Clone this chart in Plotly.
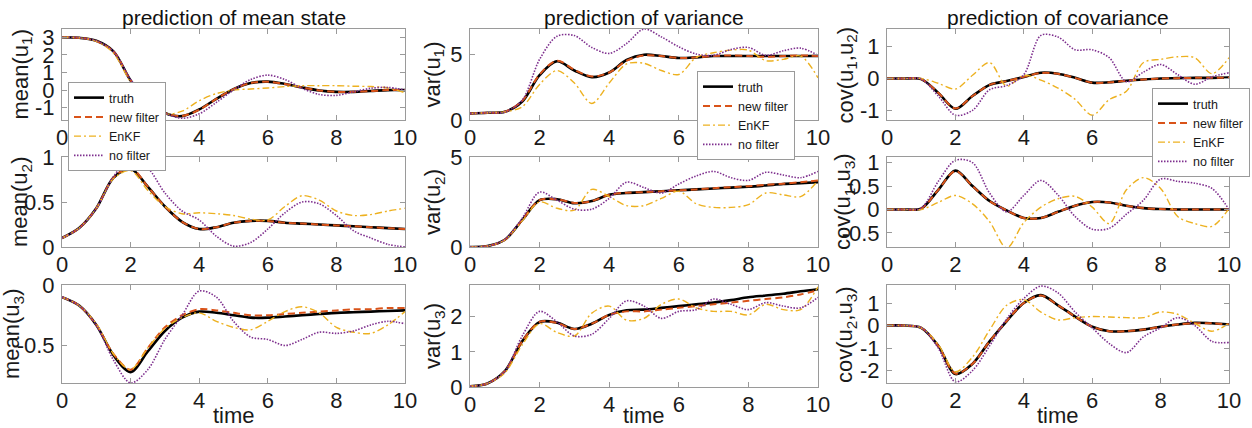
import plotly.graph_objects as go

W, H = 1252, 428

TIME = [0.0, 0.5, 1.0, 1.5, 2.0, 2.5, 3.0, 3.5, 4.0, 4.5, 5.0,
        5.5, 6.0, 6.5, 7.0, 7.5, 8.0, 8.5, 9.0, 9.5, 10.0]
SERIES = ["truth", "new filter", "EnKF", "no filter"]
X_TICKS = [0, 2, 4, 6, 8, 10]

# ---- mean(u1)
MEAN_U1_TRUTH = [3.0, 2.97, 2.8, 2.2, 0.55, -0.65, -1.3, -1.48, -1.1, -0.5, 0.05, 0.4, 0.48, 0.35, 0.15, -0.02, -0.1, -0.1, -0.05, 0.0, 0.0]
MEAN_U1_NEW = [3.0, 2.97, 2.78, 2.2, 0.55, -0.65, -1.3, -1.47, -1.12, -0.5, 0.05, 0.4, 0.47, 0.35, 0.15, -0.02, -0.1, -0.1, -0.06, 0.0, 0.0]
MEAN_U1_ENKF = [3.0, 2.97, 2.78, 2.1, 0.45, -0.8, -1.35, -1.2, -0.6, -0.2, 0.0, 0.06, 0.12, 0.2, 0.25, 0.25, 0.25, 0.22, 0.2, 0.12, -0.15]
MEAN_U1_NOF = [3.0, 2.97, 2.8, 2.2, 0.6, -0.55, -1.3, -1.6, -1.35, -0.7, 0.0, 0.6, 0.85, 0.6, 0.1, -0.25, -0.3, -0.1, 0.1, 0.15, 0.0]

# ---- var(u1)
VAR_U1_TRUTH = [0.5, 0.55, 0.62, 1.4, 3.4, 4.45, 3.75, 3.25, 3.6, 4.55, 4.95, 4.85, 4.7, 4.75, 4.85, 4.85, 4.85, 4.85, 4.85, 4.85, 4.85]
VAR_U1_NEW = [0.5, 0.55, 0.62, 1.45, 3.45, 4.5, 3.8, 3.3, 3.6, 4.5, 4.9, 4.85, 4.7, 4.75, 4.85, 4.9, 4.85, 4.8, 4.85, 4.9, 4.85]
VAR_U1_ENKF = [0.5, 0.55, 0.62, 1.0, 2.7, 3.75, 2.8, 1.25, 2.8, 4.25, 4.3, 3.75, 3.45, 4.75, 5.1, 5.3, 5.3, 4.5, 4.6, 4.85, 3.2]
VAR_U1_NOF = [0.5, 0.55, 0.6, 1.5, 4.6, 6.35, 6.4, 5.5, 5.05, 5.8, 6.9, 6.3, 5.55, 5.0, 4.9, 5.35, 5.5, 4.9, 5.25, 5.45, 4.9]

# ---- cov(u1,u2)
COV_U12_TRUTH = [0.0, 0.0, -0.02, -0.45, -0.95, -0.55, -0.2, -0.08, 0.05, 0.18, 0.15, 0.02, -0.13, -0.12, -0.07, -0.03, 0.0, 0.01, 0.02, 0.02, 0.03]
COV_U12_NEW = [0.0, 0.0, -0.02, -0.45, -0.94, -0.55, -0.2, -0.08, 0.05, 0.17, 0.15, 0.02, -0.13, -0.12, -0.07, -0.03, 0.0, 0.01, 0.02, 0.02, 0.02]
COV_U12_ENKF = [0.0, 0.0, 0.0, -0.15, -0.33, 0.1, 0.5, -0.24, 0.1, -0.05, -0.3, -0.65, -1.15, -0.66, -0.4, 0.5, 0.6, 0.68, 0.65, 0.15, 0.65]
COV_U12_NOF = [0.0, 0.0, -0.02, -0.55, -1.15, -1.0, -0.35, -0.22, 0.12, 1.35, 1.3, 0.9, 0.9, 0.65, -0.1, 0.2, 0.44, 0.12, -0.18, 0.05, 0.18]

# ---- mean(u2)
MEAN_U2_TRUTH = [0.1, 0.21, 0.43, 0.77, 0.87, 0.67, 0.45, 0.28, 0.2, 0.22, 0.27, 0.29, 0.29, 0.27, 0.26, 0.25, 0.24, 0.23, 0.22, 0.21, 0.2]
MEAN_U2_NEW = [0.1, 0.21, 0.43, 0.77, 0.88, 0.67, 0.45, 0.28, 0.2, 0.22, 0.27, 0.29, 0.29, 0.27, 0.26, 0.25, 0.24, 0.23, 0.22, 0.21, 0.2]
MEAN_U2_ENKF = [0.1, 0.21, 0.43, 0.76, 0.85, 0.63, 0.45, 0.37, 0.38, 0.37, 0.35, 0.31, 0.3, 0.45, 0.57, 0.52, 0.4, 0.35, 0.36, 0.4, 0.43]
MEAN_U2_NOF = [0.1, 0.21, 0.43, 0.78, 0.99, 0.88, 0.6, 0.4, 0.3, 0.12, 0.01, 0.05, 0.2, 0.38, 0.5, 0.48, 0.35, 0.18, 0.1, 0.03, 0.0]

# ---- var(u2)
VAR_U2_TRUTH = [0.0, 0.05, 0.4, 1.5, 2.6, 2.65, 2.43, 2.55, 2.9, 3.0, 3.05, 3.1, 3.15, 3.2, 3.25, 3.3, 3.35, 3.42, 3.5, 3.55, 3.6]
VAR_U2_NEW = [0.0, 0.05, 0.4, 1.5, 2.6, 2.65, 2.45, 2.55, 2.9, 3.02, 3.05, 3.1, 3.15, 3.2, 3.27, 3.32, 3.38, 3.45, 3.52, 3.6, 3.7]
VAR_U2_ENKF = [0.0, 0.05, 0.4, 1.45, 2.5, 2.15, 2.05, 3.2, 2.8, 2.3, 2.3, 2.7, 3.1, 2.4, 2.2, 2.2, 2.35, 3.0, 2.9, 2.8, 3.7]
VAR_U2_NOF = [0.0, 0.05, 0.42, 1.6, 3.05, 2.6, 2.1, 2.1, 2.7, 3.6, 3.3, 3.0, 3.5, 3.95, 4.2, 3.85, 3.7, 4.15, 4.0, 3.85, 4.2]

# ---- cov(u1,u3)
COV_U13_TRUTH = [0.0, 0.0, 0.02, 0.42, 0.83, 0.5, 0.18, -0.02, -0.18, -0.18, -0.05, 0.08, 0.16, 0.15, 0.08, 0.03, 0.01, 0.0, 0.0, 0.0, 0.0]
COV_U13_NEW = [0.0, 0.0, 0.02, 0.42, 0.82, 0.5, 0.18, -0.02, -0.18, -0.18, -0.05, 0.08, 0.16, 0.15, 0.08, 0.03, 0.01, 0.0, 0.0, 0.0, 0.0]
COV_U13_ENKF = [0.0, 0.0, 0.0, 0.15, 0.3, 0.12, -0.26, -0.82, -0.28, 0.05, 0.23, 0.28, 0.05, -0.3, 0.42, 0.68, 0.45, -0.15, -0.3, -0.36, 0.02]
COV_U13_NOF = [0.0, 0.0, 0.03, 0.6, 1.05, 1.0, 0.35, -0.05, 0.3, 0.62, 0.31, -0.15, -0.42, -0.4, -0.1, 0.2, 0.65, 0.6, 0.56, 0.45, 0.0]

# ---- mean(u3)
MEAN_U3_TRUTH = [-0.1, -0.17, -0.33, -0.58, -0.72, -0.55, -0.38, -0.27, -0.22, -0.23, -0.25, -0.27, -0.27, -0.26, -0.25, -0.24, -0.23, -0.225, -0.22, -0.215, -0.21]
MEAN_U3_NEW = [-0.1, -0.17, -0.33, -0.57, -0.7, -0.52, -0.35, -0.25, -0.2, -0.21, -0.23, -0.25, -0.25, -0.24, -0.23, -0.22, -0.21, -0.2, -0.2, -0.19, -0.19]
MEAN_U3_ENKF = [-0.1, -0.17, -0.32, -0.57, -0.7, -0.52, -0.36, -0.27, -0.23, -0.3, -0.35, -0.37, -0.3, -0.22, -0.18, -0.23, -0.35, -0.39, -0.4, -0.33, -0.22]
MEAN_U3_NOF = [-0.1, -0.17, -0.33, -0.62, -0.81, -0.7, -0.45, -0.25, -0.05, -0.1, -0.3, -0.43, -0.45, -0.5, -0.45, -0.39, -0.4, -0.38, -0.33, -0.3, -0.32]

# ---- var(u3)
VAR_U3_TRUTH = [0.02, 0.1, 0.45, 1.3, 1.85, 1.83, 1.65, 1.8, 2.05, 2.18, 2.2, 2.25, 2.3, 2.35, 2.4, 2.47, 2.55, 2.6, 2.65, 2.72, 2.78]
VAR_U3_NEW = [0.02, 0.1, 0.45, 1.3, 1.85, 1.82, 1.65, 1.8, 2.05, 2.15, 2.15, 2.2, 2.25, 2.3, 2.35, 2.4, 2.45, 2.5, 2.55, 2.63, 2.75]
VAR_U3_ENKF = [0.02, 0.1, 0.4, 1.2, 1.8, 1.55, 1.45, 2.1, 2.3, 1.9, 1.95, 2.35, 2.5, 2.25, 2.15, 2.15, 2.05, 2.35, 2.2, 2.2, 2.85]
VAR_U3_NOF = [0.02, 0.1, 0.45, 1.45, 2.15, 1.85, 1.45, 1.5, 1.95, 2.45, 2.3, 1.95, 2.15, 2.2, 2.5, 2.35, 2.2, 2.4, 2.3, 2.25, 2.55]

# ---- cov(u2,u3)
COV_U23_TRUTH = [0.0, 0.0, -0.1, -0.9, -2.15, -1.7, -0.7, 0.2, 1.0, 1.35, 0.9, 0.4, -0.05, -0.25, -0.25, -0.18, -0.05, 0.05, 0.12, 0.1, 0.05]
COV_U23_NEW = [0.0, 0.0, -0.1, -0.9, -2.13, -1.7, -0.7, 0.2, 1.0, 1.33, 0.9, 0.4, -0.05, -0.25, -0.25, -0.18, -0.05, 0.05, 0.1, 0.1, 0.05]
COV_U23_ENKF = [0.0, 0.0, -0.1, -0.85, -2.05, -1.4, -0.2, 0.9, 1.15, 0.6, 0.25, 0.35, 0.4, 0.38, 0.35, 0.35, 0.6, 0.5, 0.1, -0.25, 0.1]
COV_U23_NOF = [0.0, 0.0, -0.1, -1.0, -2.5, -2.0, -0.9, 0.3, 1.2, 1.75, 1.45, 0.6, -0.1, -0.8, -1.2, -0.5, -0.1, 0.35, 0.0, -0.7, -0.75]

# ---- y axis labels, ticks and limits per panel (row-major)
Y_LABELS = ["mean(u<sub>1</sub>)", "var(u<sub>1</sub>)", "cov(u<sub>1</sub>,u<sub>2</sub>)",
            "mean(u<sub>2</sub>)", "var(u<sub>2</sub>)", "cov(u<sub>1</sub>,u<sub>3</sub>)",
            "mean(u<sub>3</sub>)", "var(u<sub>3</sub>)", "cov(u<sub>2</sub>,u<sub>3</sub>)"]
Y_TICKS = [[-1, 0, 1, 2, 3], [0, 5], [-1, 0, 1],
           [0, 0.5, 1], [0, 5], [-0.5, 0, 0.5, 1],
           [-0.5, 0], [0, 1, 2], [-2, -1, 0, 1]]
Y_LIMITS = [[-1.7, 3.47], [0, 6.9], [-1.3, 1.55],
            [0, 1.0], [0, 5], [-0.8, 1.12],
            [-0.81, 0], [0, 2.9], [-2.55, 1.8]]
COL_TITLES = ["prediction of mean state", "prediction of variance", "prediction of covariance"]

PANEL_DATA = [
    [MEAN_U1_TRUTH, MEAN_U1_NEW, MEAN_U1_ENKF, MEAN_U1_NOF],
    [VAR_U1_TRUTH, VAR_U1_NEW, VAR_U1_ENKF, VAR_U1_NOF],
    [COV_U12_TRUTH, COV_U12_NEW, COV_U12_ENKF, COV_U12_NOF],
    [MEAN_U2_TRUTH, MEAN_U2_NEW, MEAN_U2_ENKF, MEAN_U2_NOF],
    [VAR_U2_TRUTH, VAR_U2_NEW, VAR_U2_ENKF, VAR_U2_NOF],
    [COV_U13_TRUTH, COV_U13_NEW, COV_U13_ENKF, COV_U13_NOF],
    [MEAN_U3_TRUTH, MEAN_U3_NEW, MEAN_U3_ENKF, MEAN_U3_NOF],
    [VAR_U3_TRUTH, VAR_U3_NEW, VAR_U3_ENKF, VAR_U3_NOF],
    [COV_U23_TRUTH, COV_U23_NEW, COV_U23_ENKF, COV_U23_NOF],
]

# ---- layout geometry (pixels) and styles
COL_X = [(62, 405), (470, 818), (887, 1229)]
PANEL_Y = [[(29, 120), (29, 120), (29, 120)],
           [(157, 247), (157, 247), (157, 247)],
           [(285, 383), (285, 387), (285, 383)]]
YLABEL_X = [[21, 433, 846], [21, 434, 844], [13, 434, 846]]
TIME_LABEL_Y = 415
TITLE_Y = 17
LEGEND_POS = [(68, 82), (697, 71), (1152, 88)]

COLORS = ["#000000", "#D95319", "#EDB120", "#7E2F8E"]
WIDTHS = [2.6, 2.0, 1.4, 1.6]
DASHES = ["solid", "7px,4px", "7px,3px,2px,3px", "1.5px,1.5px"]
FONT = "Liberation Sans, Arial, Helvetica, sans-serif"
AX_COLOR = "#9a9a9a"
TXT = "#1a1a1a"


def fmt(v):
    return str(int(v)) if float(v).is_integer() else str(v)


def px_x(x):
    return x / W


def px_y(y):
    return 1 - y / H


fig = go.Figure()
layout = dict(
    width=W, height=H, paper_bgcolor="white", plot_bgcolor="white",
    margin=dict(l=0, r=0, t=0, b=0, pad=0), showlegend=True, autosize=False,
    font=dict(family=FONT, color=TXT),
)
annotations = []
legend_names = ["legend", "legend2", "legend3"]

for idx in range(9):
    r, c = divmod(idx, 3)
    n = idx + 1
    xa = "x" if n == 1 else f"x{n}"
    ya = "y" if n == 1 else f"y{n}"
    for s in range(4):
        tr = dict(
            x=TIME, y=PANEL_DATA[idx][s], mode="lines", name=SERIES[s],
            line=dict(color=COLORS[s], width=WIDTHS[s], dash=DASHES[s], shape="spline", smoothing=0.9),
            xaxis=xa, yaxis=ya, hoverinfo="skip",
        )
        if idx < 3:
            tr["legend"] = legend_names[idx]
            tr["showlegend"] = True
        else:
            tr["showlegend"] = False
        fig.add_trace(go.Scatter(**tr))

    x0, x1 = COL_X[c]
    y0, y1 = PANEL_Y[r][c]
    common = dict(
        showline=True, linecolor=AX_COLOR, linewidth=1, mirror="ticks",
        ticks="inside", ticklen=5, tickcolor=AX_COLOR, tickwidth=1,
        showgrid=False, zeroline=False, automargin=False,
        tickfont=dict(size=22, family=FONT, color=TXT),
    )
    layout["xaxis" if n == 1 else f"xaxis{n}"] = dict(
        domain=[px_x(x0), px_x(x1)], anchor=ya, range=[0, 10],
        tickmode="array", tickvals=X_TICKS, ticktext=[fmt(v) for v in X_TICKS],
        ticklabelstandoff=-2, **common)
    layout["yaxis" if n == 1 else f"yaxis{n}"] = dict(
        domain=[px_y(y1), px_y(y0)], anchor=xa, range=Y_LIMITS[idx],
        tickmode="array", tickvals=Y_TICKS[idx], ticktext=[fmt(v) for v in Y_TICKS[idx]],
        ticklabelstandoff=2, **common)

    annotations.append(dict(
        text=Y_LABELS[idx], textangle=-90, x=px_x(YLABEL_X[r][c]), y=px_y((y0 + y1) / 2),
        xref="paper", yref="paper", xanchor="center", yanchor="middle", showarrow=False,
        font=dict(size=22, family=FONT, color=TXT)))
    if r == 2:
        annotations.append(dict(
            text="time", x=px_x((x0 + x1) / 2), y=px_y(TIME_LABEL_Y), xref="paper", yref="paper",
            xanchor="center", yanchor="middle", showarrow=False,
            font=dict(size=22, family=FONT, color=TXT)))

for c in range(3):
    x0, x1 = COL_X[c]
    annotations.append(dict(
        text=COL_TITLES[c], x=px_x((x0 + x1) / 2), y=px_y(TITLE_Y), xref="paper", yref="paper",
        xanchor="center", yanchor="middle", showarrow=False,
        font=dict(size=21, family=FONT, color="#111111")))

for i, (lx, ly) in enumerate(LEGEND_POS):
    layout[legend_names[i]] = dict(
        x=px_x(lx), y=px_y(ly), xanchor="left", yanchor="top",
        bgcolor="white", bordercolor=AX_COLOR, borderwidth=1,
        font=dict(size=12.5, family=FONT, color=TXT),
        tracegroupgap=0, itemwidth=30)

layout["annotations"] = annotations
fig.update_layout(**layout)
fig.write_html(
    "out.html",
    config={"displayModeBar": False, "responsive": False},
    post_script="document.body.style.margin='0';document.body.style.padding='0';document.body.style.overflow='hidden';",
)
